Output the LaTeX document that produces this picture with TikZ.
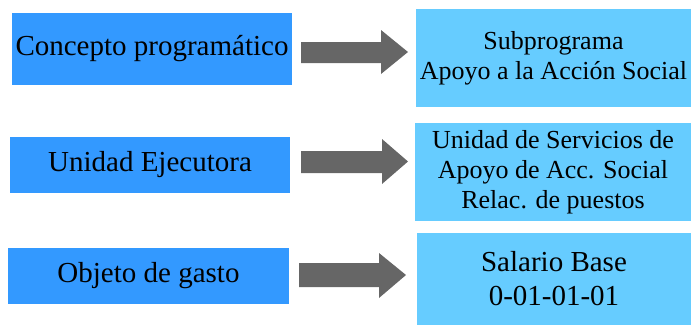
\documentclass[tikz,border=0pt]{standalone}
\usepackage{fontspec}
\setmainfont{Liberation Serif}
\definecolor{leftblue}{HTML}{3399FF}
\definecolor{rightblue}{HTML}{66CCFF}
\definecolor{arrowgray}{HTML}{666666}
\begin{document}
\begin{tikzpicture}[x=1pt,y=-1pt,
  lbox/.style={fill=leftblue,inner sep=0pt,minimum width=280pt,align=center,font=\fontsize{29}{33}\selectfont},
  rbox/.style={fill=rightblue,inner sep=0pt,align=center,font=\fontsize{26}{30}\selectfont},
  blockarrow/.style={fill=arrowgray}]
\useasboundingbox (0,0) rectangle (691,325);
\node[lbox,minimum height=72pt] (l1) at (152,49) {Concepto programático};
\node[lbox,minimum height=56pt] (l2) at (150,165) {Unidad Ejecutora};
\node[lbox,minimum height=56pt,minimum width=281pt] (l3) at (148.5,276) {Objeto de gasto};
\node[rbox,minimum width=275pt,minimum height=98pt] (r1) at (553.5,58) {Subprograma\\Apoyo a la Acción Social};
\node[rbox,minimum width=276pt,minimum height=98pt] (r2) at (553,172) {Unidad de Servicios de\\Apoyo de Acc. Social\\Relac. de puestos};
\node[rbox,minimum width=274pt,minimum height=92pt,font=\fontsize{29}{34}\selectfont] (r3) at (554,279) {Salario Base\\0-01-01-01};
\fill[blockarrow] (301,42) -- (381,42) -- (381,30) -- (408,52) -- (381,74) -- (381,63) -- (301,63) -- cycle;
\fill[blockarrow] (301,151) -- (382,151) -- (382,139) -- (408,161.5) -- (382,184) -- (382,173) -- (301,173) -- cycle;
\fill[blockarrow] (299,263) -- (379,263) -- (379,253) -- (406,275) -- (379,298) -- (379,287) -- (299,287) -- cycle;
\end{tikzpicture}
\end{document}
